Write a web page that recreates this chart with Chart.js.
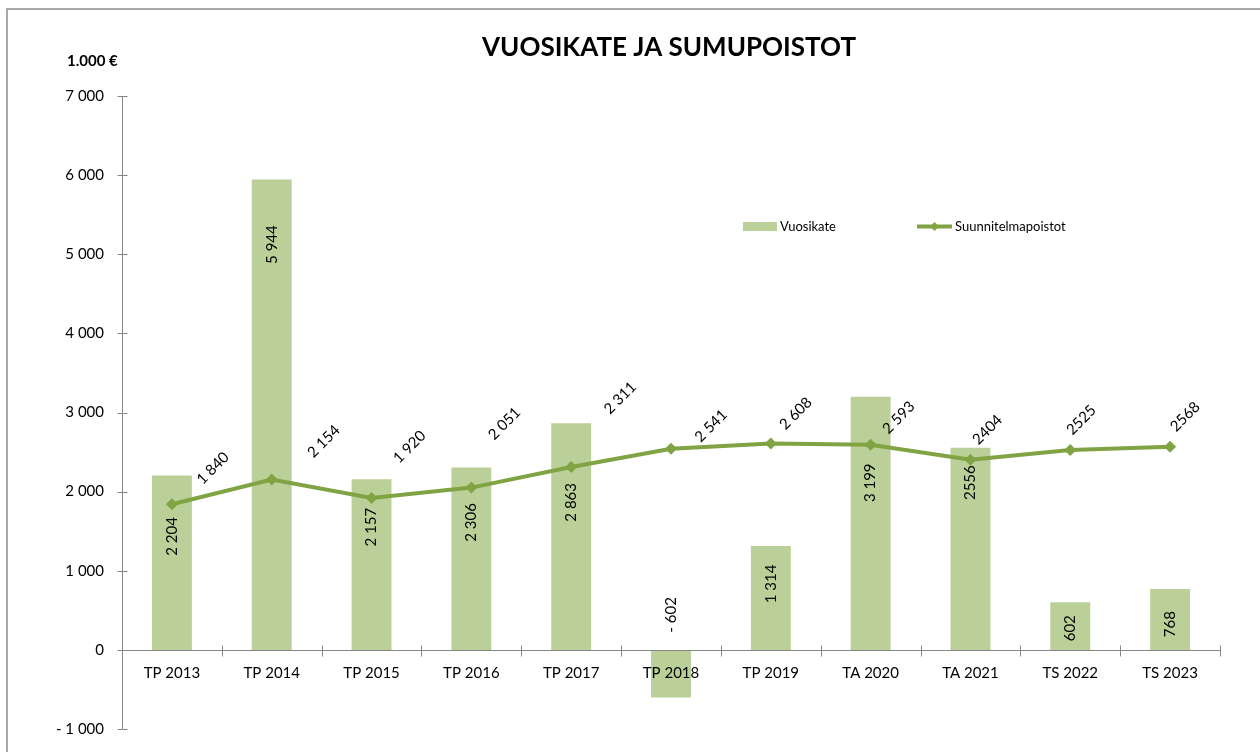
<!DOCTYPE html>
<html>
<head>
<meta charset="utf-8">
<title>Vuosikate ja sumupoistot</title>
<script src="https://cdn.jsdelivr.net/npm/chart.js@4.4.0/dist/chart.umd.min.js"></script>
<style>
  html, body { margin: 0; padding: 0; background: #fff; }
  #wrap { width: 1260px; height: 752px; }
</style>
</head>
<body>
<div id="wrap"><canvas id="chart" width="1260" height="752"></canvas></div>
<script>
// Data (1.000 €)
const categories = ['TP 2013', 'TP 2014', 'TP 2015', 'TP 2016', 'TP 2017', 'TP 2018',
                    'TP 2019', 'TA 2020', 'TA 2021', 'TS 2022', 'TS 2023'];
const vuosikate = [2204, 5944, 2157, 2306, 2863, -602, 1314, 3199, 2556, 602, 768];
const poistot = [1840, 2154, 1920, 2051, 2311, 2541, 2608, 2593, 2404, 2525, 2568];
const yTicks = [-1000, 0, 1000, 2000, 3000, 4000, 5000, 6000, 7000];
// from this category on the labels are written without the digit grouping space
const plainFrom = 8;

const barColor = '#BBD098';
const lineColor = '#80A343';
const FONT = 'Lato, "Liberation Sans", sans-serif';

// label nudges, in pixels (the labels were moved by hand in the original)
const barLabelShift = [61, 65, 48, 55, 79, -35, 38, 86, 35, 26, 35];
const lineLabelShift = [[41, -36], [52, -38], [38, -51], [33, -64], [49, -69], [40, -23],
                        [25, -30], [28, -27], [17, -30], [11, -30], [15, -30]];

function fmt(v, grouped) {
    let s = String(Math.abs(v));
    if (grouped) s = s.replace(/\B(?=(\d{3})+(?!\d))/g, ' ');
    return v < 0 ? '- ' + s : s;
}

const decor = {
    id: 'decor',
    beforeDraw(chart) {
        const c = chart.ctx;
        c.save();
        c.fillStyle = '#fff';
        c.fillRect(0, 0, chart.width, chart.height);
        c.strokeStyle = '#8c8c8c';
        c.lineWidth = 1.5;
        c.strokeRect(7, 9, chart.width + 40, chart.height + 40);
        c.restore();
    },
    afterDatasetsDraw(chart) {
        const c = chart.ctx;
        const area = chart.chartArea;
        const xs = chart.scales.x, ys = chart.scales.y;
        const y0 = Math.round(ys.getPixelForValue(0)) + 0.5;
        const left = Math.round(area.left) + 0.5;
        c.save();
        c.strokeStyle = '#868686';
        c.lineWidth = 1;
        // value axis + cross ticks
        c.beginPath();
        c.moveTo(left, area.top);
        c.lineTo(left, area.bottom);
        yTicks.forEach(v => {
            const y = Math.round(ys.getPixelForValue(v)) + 0.5;
            c.moveTo(left - 5, y);
            c.lineTo(left + 5, y);
        });
        // category axis at zero + cross ticks between categories
        c.moveTo(area.left, y0);
        c.lineTo(area.right, y0);
        const w = (area.right - area.left) / categories.length;
        for (let i = 0; i <= categories.length; i++) {
            const x = Math.round(area.left + i * w) + 0.5;
            c.moveTo(x, y0 - 5);
            c.lineTo(x, y0 + 6);
        }
        c.stroke();

        // category labels
        c.fillStyle = '#000';
        c.font = '15px ' + FONT;
        c.textAlign = 'center';
        c.textBaseline = 'middle';
        categories.forEach((lab, i) => {
            c.fillText(lab, xs.getPixelForValue(i), y0 + 23);
        });

        // bar value labels (vertical)
        const barMeta = chart.getDatasetMeta(1);
        barMeta.data.forEach((bar, i) => {
            const v = vuosikate[i];
            const base = v >= 0 ? bar.y : ys.getPixelForValue(0);
            c.save();
            c.translate(bar.x, base + barLabelShift[i]);
            c.rotate(-Math.PI / 2);
            c.fillText(fmt(v, i < plainFrom), 0, 0);
            c.restore();
        });

        // line value labels (diagonal)
        const lineMeta = chart.getDatasetMeta(0);
        lineMeta.data.forEach((pt, i) => {
            const [dx, dy] = lineLabelShift[i];
            c.save();
            c.translate(pt.x + dx, pt.y + dy);
            c.rotate(-Math.PI / 4);
            c.fillText(fmt(poistot[i], i < plainFrom), 0, 0);
            c.restore();
        });
        c.restore();
    },
    afterDraw(chart) {
        const c = chart.ctx;
        c.save();
        c.fillStyle = '#000';
        c.textBaseline = 'middle';
        // title
        c.textAlign = 'center';
        c.font = 'bold 26px ' + FONT;
        c.fillText('VUOSIKATE JA SUMUPOISTOT', 669, 48);
        // unit
        c.textAlign = 'left';
        c.font = 'bold 15px ' + FONT;
        c.fillText('1.000 €', 67, 61);
        // legend
        c.font = '13px ' + FONT;
        c.fillStyle = barColor;
        c.fillRect(743, 222, 34, 9);
        c.fillStyle = '#000';
        c.fillText('Vuosikate', 780, 226.5);
        c.strokeStyle = lineColor;
        c.lineWidth = 4;
        c.beginPath();
        c.moveTo(917, 226.5);
        c.lineTo(952, 226.5);
        c.stroke();
        c.fillStyle = lineColor;
        c.beginPath();
        c.moveTo(934.5, 222);
        c.lineTo(939, 226.5);
        c.lineTo(934.5, 231);
        c.lineTo(930, 226.5);
        c.closePath();
        c.fill();
        c.fillStyle = '#000';
        c.fillText('Suunnitelmapoistot', 955, 226.5);
        c.restore();
    }
};

const ctx = document.getElementById('chart').getContext('2d');
const chart = new Chart(ctx, {
    data: {
        labels: categories,
        datasets: [{
            type: 'line',
            label: 'Suunnitelmapoistot',
            data: poistot,
            borderColor: lineColor,
            backgroundColor: lineColor,
            borderWidth: 4,
            pointStyle: 'rectRot',
            pointRadius: 6,
            pointBorderWidth: 0,
            tension: 0,
            order: 1
        }, {
            type: 'bar',
            label: 'Vuosikate',
            data: vuosikate,
            backgroundColor: barColor,
            borderWidth: 0,
            categoryPercentage: 1,
            barPercentage: 0.4,
            order: 2
        }]
    },
    options: {
        responsive: false,
        animation: false,
        devicePixelRatio: 1,
        layout: { padding: { top: 96, right: 40, bottom: 23, left: 0 } },
        plugins: {
            legend: { display: false },
            tooltip: { enabled: false }
        },
        scales: {
            x: {
                display: false,
                offset: true
            },
            y: {
                min: -1000,
                max: 7000,
                afterBuildTicks: s => { s.ticks = yTicks.map(v => ({ value: v })); },
                afterFit: s => { s.width = 122; s.paddingTop = 0; s.paddingBottom = 0; },
                grid: { display: false, drawTicks: false },
                border: { display: false },
                ticks: {
                    padding: 18,
                    color: '#000',
                    font: { family: FONT, size: 15 },
                    callback: v => fmt(v, true)
                }
            }
        }
    },
    plugins: [decor]
});
</script>
</body>
</html>
